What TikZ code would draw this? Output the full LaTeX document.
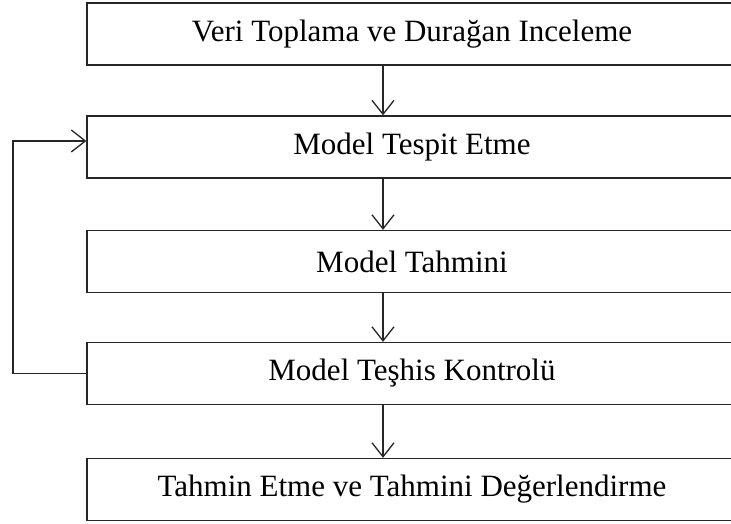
\documentclass[tikz,border=0pt]{standalone}
\usepackage{fontspec}
\setmainfont{Liberation Serif}
\usepackage{tikz}
\usetikzlibrary{calc}
\usetikzlibrary{arrows.meta}
\tikzset{
    kotak/.style={draw=black!85, line width=1.3pt, minimum width=650pt, minimum height=62pt, inner sep=0pt, font=\fontsize{31}{37}\selectfont},
    panah/.style={line width=1.3pt, draw=black!85, -{Straight Barb[length=14pt,width=22pt]}}
}
\begin{document}
\begin{tikzpicture}[x=1pt,y=1pt]
        %BATAS
        \useasboundingbox (0,0) rectangle (731,524);
        %KOTAK
        \node[kotak] (veri) at (412,490) {Veri Toplama ve Durağan Inceleme};
        \node[kotak] (tespit) at (412,377) {Model Tespit Etme};
        \node[kotak] (tahmin) at (412,262.5) {Model Tahmini};
        \node[kotak] (teshis) at (412,150.5) {Model Teşhis Kontrolü};
        \node[kotak] (degerlendirme) at (412,34.5) {Tahmin Etme ve Tahmini Değerlendirme};
        %GARIS BANTU
        \coordinate (ax) at (383,0);
        \coordinate (geri) at (13,383);
        %PANAH
        \draw[panah] (veri.south -| ax) -- (tespit.north -| ax);
        \draw[panah] (tespit.south -| ax) -- (tahmin.north -| ax);
        \draw[panah] (tahmin.south -| ax) -- (teshis.north -| ax);
        \draw[panah] (teshis.south -| ax) -- (degerlendirme.north -| ax);
        %GERI BESLEME
        \draw[panah] (teshis.west) -| (geri) -- (geri -| tespit.west);
    \end{tikzpicture}
\end{document}
